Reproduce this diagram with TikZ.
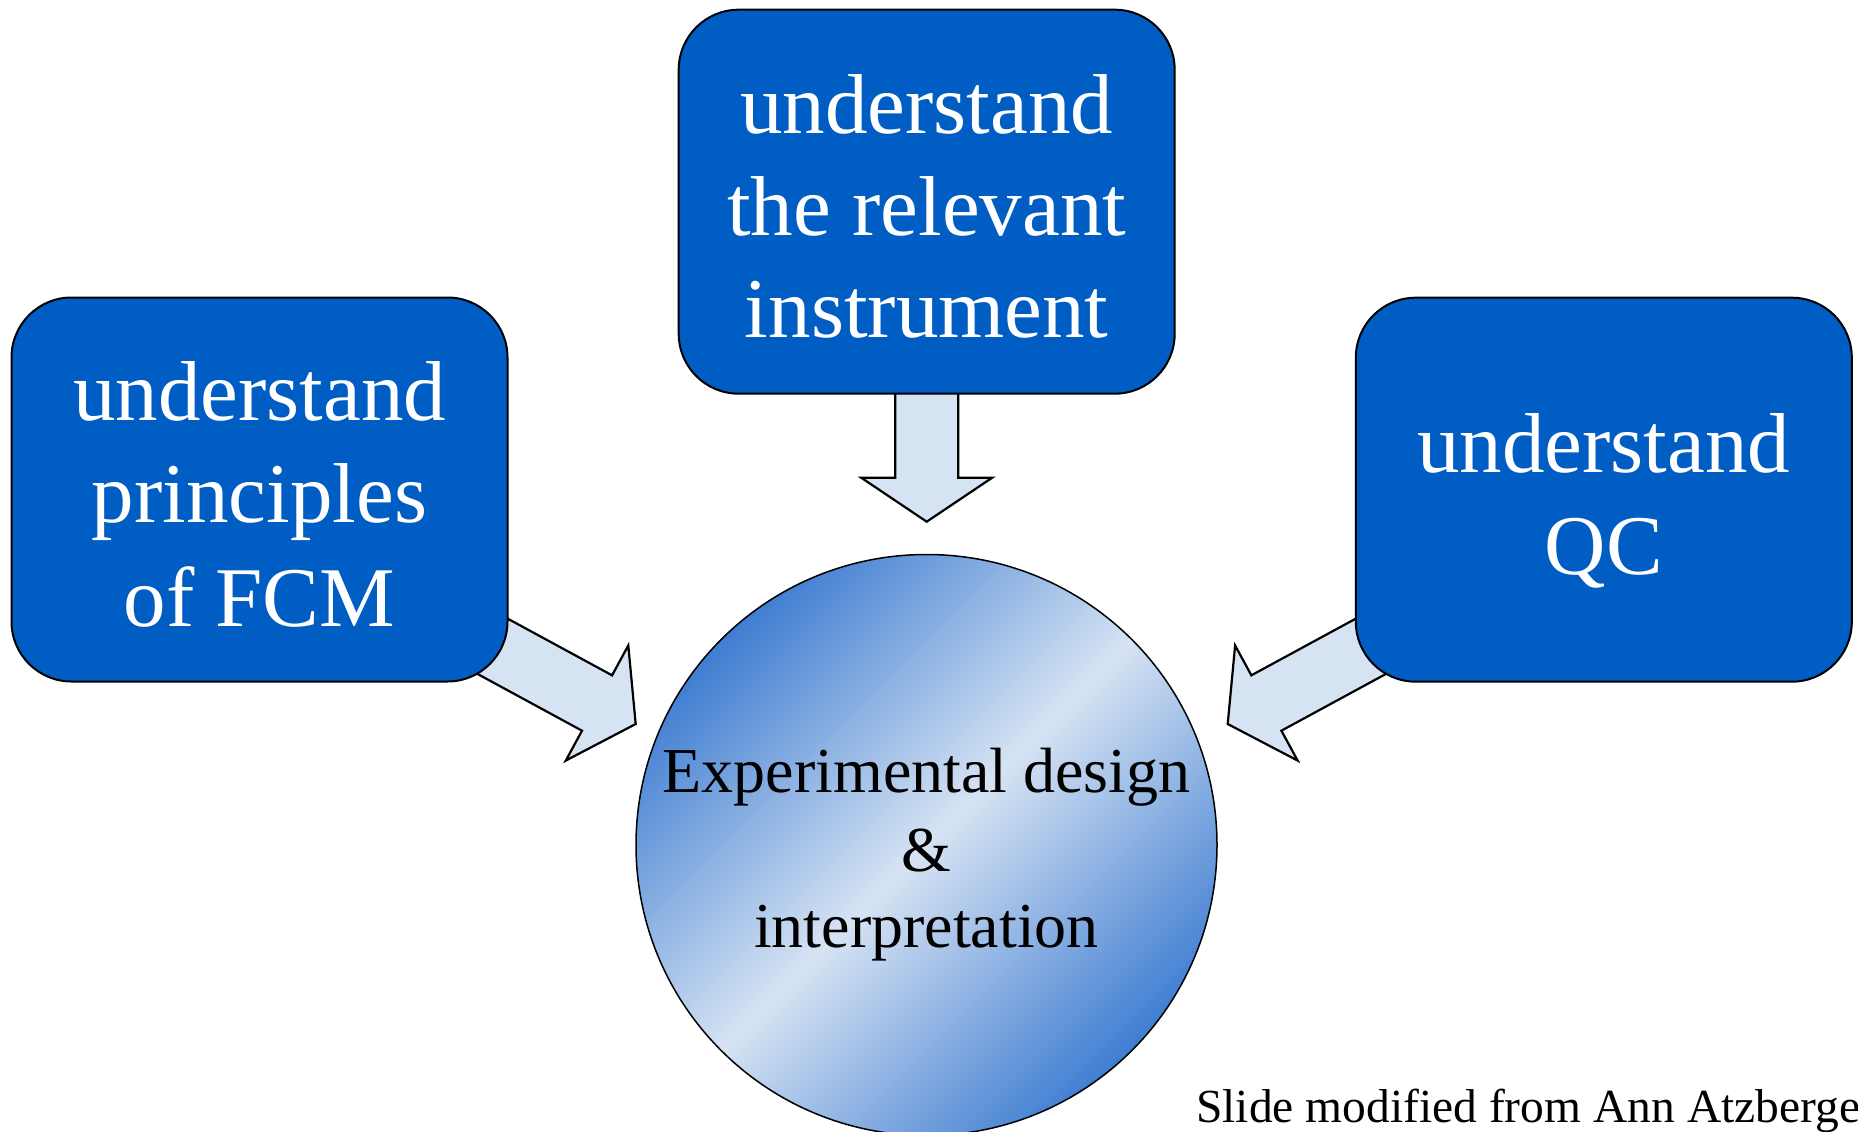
\documentclass[tikz,border=0pt]{standalone}
\usepackage{fontspec}
\setmainfont{Liberation Serif}
\usetikzlibrary{calc}

\definecolor{boxblue}{RGB}{0,93,196}
\definecolor{arrowfill}{RGB}{214,227,243}
\definecolor{discdark}{RGB}{64,126,210}
\definecolor{disclight}{RGB}{214,227,243}

% invisible struts that fix the height and depth of every text line
\newcommand\boxstrut{\rule[-17pt]{0pt}{102pt}}
\newcommand\discstrut{\rule[-12.8pt]{0pt}{76.5pt}}

% block arrow: #1 tip coordinate, #2 direction angle, #3 total length
\newcommand\blockarrow[3]{%
  \begin{scope}[shift={(#1)}, rotate=#2]
    \filldraw[arrowstyle] (0,0) -- (-44,65.5) -- (-44,31.5) -- (-#3,31.5)
      -- (-#3,-31.5) -- (-44,-31.5) -- (-44,-65.5) -- cycle;
  \end{scope}}

\begin{document}
\begin{tikzpicture}[x=1pt, y=-1pt,
  box/.style={draw=black, line width=2pt, fill=boxblue, rounded corners=60pt,
    minimum width=496pt, minimum height=384pt, inner sep=0pt, text=white,
    align=center, font=\fontsize{85}{102}\selectfont},
  arrowstyle/.style={fill=arrowfill, draw=black, line width=2.2pt, line join=miter},
  disc/.style={circle, draw=black, line width=1.5pt, minimum size=581pt, inner sep=0pt,
    top color=discdark, bottom color=discdark, middle color=disclight, shading angle=45,
    align=center, font=\fontsize{64}{76.5}\selectfont},
]
\useasboundingbox (0,0) rectangle (1858,1132);

% arrow tips
\coordinate (tipInstr) at (926.7,521.7);
\coordinate (tipFCM)   at (635.7,724);
\coordinate (tipQC)    at (1227.7,724);

% block arrows (their tails disappear under the boxes)
\blockarrow{tipInstr}{-90}{170}
\blockarrow{tipFCM}{-28.5}{200}
\blockarrow{tipQC}{-151.5}{200}

% the three boxes
\node[box] (fcm) at (259.5,489.5)
  {\boxstrut understand\\\boxstrut principles\\\boxstrut of FCM};
\node[box] (instr) at (926.7,201.7)
  {\boxstrut understand\\\boxstrut the relevant\\\boxstrut instrument};
\node[box] (qc) at (1603.8,489.7)
  {\boxstrut understand\\\boxstrut QC};

% central disc
\node[disc] (design) at (926.5,845)
  {\discstrut Experimental design\\\discstrut \&\\\discstrut interpretation};

% credit line
\node[anchor=base west, inner sep=0pt, font=\fontsize{47.5}{57}\selectfont] (credit)
  at (1196,1122) {Slide modified from Ann Atzberge};
\end{tikzpicture}
\end{document}
